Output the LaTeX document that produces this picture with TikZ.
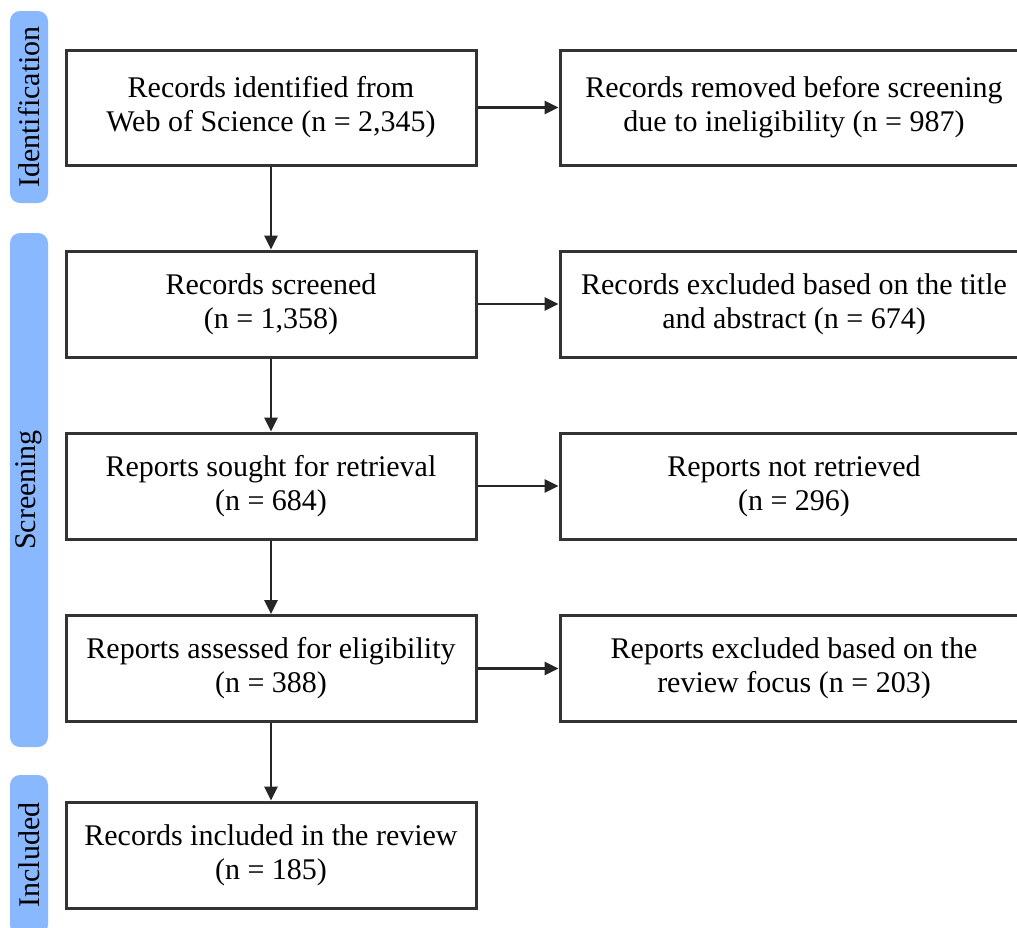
\documentclass[tikz,border=0pt]{standalone}
\usepackage{fontspec}
\setmainfont{Liberation Serif}
\usepackage{tikz}
\usetikzlibrary{arrows.meta, positioning}
\definecolor{phaseblue}{RGB}{138,184,255}
\definecolor{boxline}{RGB}{51,51,51}

\begin{document}
\begin{tikzpicture}[x=0.5pt,y=-0.5pt,
    recbox/.style={draw=boxline,line width=1.5pt,fill=white,
      minimum width=205pt,minimum height=53pt,inner sep=0pt,
      font=\fontsize{15}{17}\selectfont,align=center},
    exbox/.style={recbox,minimum width=234pt},
    phase/.style={fill=phaseblue,rounded corners=5pt,rotate=90,
      minimum height=19pt,inner sep=0pt,font=\fontsize{15}{17}\selectfont},
    arrow/.style={-{Triangle[length=7pt,width=6.5pt]},line width=1.4pt,draw=black!85}
  ]
  \useasboundingbox (0,0) rectangle (1017,927);
  \clip (0,0) rectangle (1017,927);

  % Phase bars (left)
  \node[phase,minimum width=96pt] (ident) at (29,107) {Identification};
  \node[phase,minimum width=257pt] (screen) at (29,490) {Screening};
  \node[phase,minimum width=80pt] (incl) at (29,855) {Included};

  % Main column
  \node[recbox,minimum height=57.5pt] (identified) at (271,107.5)
    {Records identified from\\Web of Science (n = 2,345)};
  \node[recbox] (screened) at (271,304) {Records screened\\(n = 1,358)};
  \node[recbox] (sought) at (271,486) {Reports sought for retrieval\\(n = 684)};
  \node[recbox] (assessed) at (271,668.5) {Reports assessed for eligibility\\(n = 388)};
  \node[recbox] (included) at (271,855) {Records included in the review\\(n = 185)};

  % Exclusion column (runs off the right edge)
  \node[exbox,minimum height=57.5pt] (removed) at (794,107.5)
    {Records removed before screening\\due to ineligibility (n = 987)};
  \node[exbox] (excluded) at (794,304)
    {Records excluded based on the title\\and abstract (n = 674)};
  \node[exbox] (notretr) at (794,486) {Reports not retrieved\\(n = 296)};
  \node[exbox] (exfocus) at (794,668.5)
    {Reports excluded based on the\\review focus (n = 203)};

  % Flow down
  \draw[arrow] (identified) -- (screened);
  \draw[arrow] (screened) -- (sought);
  \draw[arrow] (sought) -- (assessed);
  \draw[arrow] (assessed) -- (included);

  % Exclusions
  \draw[arrow] (identified) -- (removed);
  \draw[arrow] (screened) -- (excluded);
  \draw[arrow] (sought) -- (notretr);
  \draw[arrow] (assessed) -- (exfocus);
\end{tikzpicture}
\end{document}
